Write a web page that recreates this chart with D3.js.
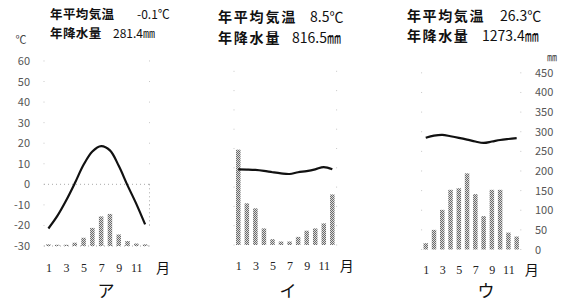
<!DOCTYPE html>
<html>
<head>
<meta charset="utf-8">
<script src="https://cdn.jsdelivr.net/npm/d3@7"></script>
<style>
  body { margin: 0; background: #fff; }
  svg { display: block; }
</style>
</head>
<body>
<div id="chart"></div>
<script>
// months and tick labels
var months = [1, 2, 3, 4, 5, 6, 7, 8, 9, 10, 11, 12];
var monthTicks = [1, 3, 5, 7, 9, 11];
var tempTicks = [60, 50, 40, 30, 20, 10, 0, -10, -20, -30];
var precTicks = [450, 400, 350, 300, 250, 200, 150, 100, 50, 0];

// panel names and annual values
var panelNames = ["ア", "イ", "ウ"];
var meanTemp = ["-0.1", "8.5", "26.3"];
var annualPrec = ["281.4", "816.5", "1273.4"];

// monthly mean temperature (℃)
var tempA = [-21.5, -15.5, -8, 0.5, 9.5, 16, 18.6, 16.5, 9, -0.5, -9.5, -19.5];
var tempB = [9.2, 9.1, 8.9, 8.4, 7.7, 7.1, 6.8, 7.7, 8.3, 9.2, 10.4, 9.2];
var tempC = [26.9, 28.0, 28.4, 27.7, 26.9, 26.0, 25.0, 24.3, 25.0, 25.8, 26.3, 26.7];

// monthly precipitation (mm)
var precA = [4, 3, 3, 8, 20, 44, 72, 78, 28, 12, 6, 4];
var precB = [247, 108, 95, 43, 15, 9, 9, 21, 37, 43, 56, 131];
var precC = [16, 50, 101, 152, 156, 194, 141, 85, 152, 152, 43, 33];

var temps = [tempA, tempB, tempC];
var precs = [precA, precB, precC];

// where each scanned panel sits
var panels = [
  { x0: 44, x1: 149.5, yBase: 246, step: 20.56, fs: 12.5, ls: 0.4, nfs: 12, tx: 50, l1: 15, l2: 34, v1: 137, v2: 113, my: 268, tsuki: 163, nx: 106 },
  { x0: 234, x1: 336.6, yBase: 245, step: 19.3, fs: 14, ls: 1.8, nfs: 14, tx: 218, l1: 17, l2: 38, v1: 310, v2: 292, my: 266, tsuki: 346.7, nx: 288 },
  { x0: 421.6, x1: 520.8, yBase: 249.5, step: 19.63, fs: 14, ls: 1.6, nfs: 14, tx: 407, l1: 16, l2: 36, v1: 500, v2: 482, my: 270, tsuki: 531.7, nx: 486 }
];

var jp = "'Noto Sans CJK JP', 'Noto Sans', sans-serif";
var barWidth = 4.5;

var svg = d3.select("#chart").append("svg")
  .attr("width", 565)
  .attr("height", 303);

// dotted texture for the bars
var pat = svg.append("defs").append("pattern")
  .attr("id", "dots")
  .attr("patternUnits", "userSpaceOnUse")
  .attr("width", 2)
  .attr("height", 2);
pat.append("rect").attr("width", 2).attr("height", 2).attr("fill", "#dcdcdc");
pat.append("rect").attr("width", 1).attr("height", 1).attr("fill", "#6a6a6a");
pat.append("rect").attr("x", 1).attr("y", 1).attr("width", 1).attr("height", 1).attr("fill", "#6a6a6a");

panels.forEach(function(p, i) {
  var x = d3.scaleLinear().domain([0.5, 12.5]).range([p.x0, p.x1]);
  var yTop = p.yBase - 9 * p.step;
  var yT = d3.scaleLinear().domain([-30, 60]).range([p.yBase, yTop]);
  var yP = d3.scaleLinear().domain([0, 450]).range([p.yBase, yTop]);

  var g = svg.append("g");

  // faint frame ticks left over from the print
  [p.x0, p.x1].forEach(function(ex) {
    g.selectAll(null)
      .data(tempTicks)
      .enter().append("rect")
      .attr("x", ex - 0.5)
      .attr("y", function(d) { return yT(d) - 0.5; })
      .attr("width", 1)
      .attr("height", 1)
      .attr("fill", "#c8c8c8");
  });

  if (i === 0) {
    g.append("line")
      .attr("x1", p.x0).attr("x2", p.x1)
      .attr("y1", yT(0)).attr("y2", yT(0))
      .attr("stroke", "#aaa").attr("stroke-dasharray", "1,3");
    g.append("line")
      .attr("x1", p.x0).attr("x2", p.x1)
      .attr("y1", yT(-30)).attr("y2", yT(-30))
      .attr("stroke", "#aaa").attr("stroke-dasharray", "1,3");
    g.append("line")
      .attr("x1", p.x1).attr("x2", p.x1)
      .attr("y1", yT(0)).attr("y2", yT(-20))
      .attr("stroke", "#aaa").attr("stroke-dasharray", "1,3");
  }

  // precipitation bars
  g.selectAll(".bar")
    .data(precs[i])
    .enter().append("rect")
    .attr("class", "bar")
    .attr("x", function(d, j) { return x(months[j]) - barWidth / 2; })
    .attr("y", function(d) { return yP(d); })
    .attr("width", barWidth)
    .attr("height", function(d) { return p.yBase - yP(d); })
    .attr("fill", "url(#dots)");

  // temperature line
  var line = d3.line()
    .x(function(d, j) { return x(months[j]); })
    .y(function(d) { return yT(d); })
    .curve(d3.curveCatmullRom);

  g.append("path")
    .datum(temps[i])
    .attr("d", line)
    .attr("fill", "none")
    .attr("stroke", "#111")
    .attr("stroke-width", 2.2);

  // month axis
  var ax = g.append("g")
    .attr("transform", "translate(0," + p.my + ")")
    .call(d3.axisBottom(x).tickValues(monthTicks).tickSize(0).tickPadding(0));
  ax.select(".domain").remove();
  ax.selectAll("text")
    .attr("y", 0)
    .attr("dy", "0.35em")
    .attr("font-family", "'Liberation Serif', serif")
    .attr("font-size", 12)
    .attr("fill", "#222");

  g.append("text")
    .attr("x", p.tsuki)
    .attr("y", p.my)
    .attr("dy", "0.35em")
    .attr("text-anchor", "middle")
    .attr("font-family", jp)
    .attr("font-size", 14)
    .attr("fill", "#111")
    .text("月");

  // panel name
  g.append("text")
    .attr("x", p.nx)
    .attr("y", 291)
    .attr("dy", "0.35em")
    .attr("text-anchor", "middle")
    .attr("font-family", jp)
    .attr("font-size", 17)
    .attr("fill", "#111")
    .text(panelNames[i]);

  // title lines
  g.append("text")
    .attr("x", p.tx).attr("y", p.l1).attr("dy", "0.35em")
    .attr("font-family", jp).attr("font-weight", "bold")
    .attr("letter-spacing", p.ls)
    .attr("font-size", p.fs).attr("fill", "#111")
    .text("年平均気温");
  g.append("text")
    .attr("x", p.v1).attr("y", p.l1).attr("dy", "0.35em")
    .attr("font-family", jp)
    .attr("font-size", p.nfs).attr("fill", "#111")
    .text(meanTemp[i] + "℃");
  g.append("text")
    .attr("x", p.tx).attr("y", p.l2).attr("dy", "0.35em")
    .attr("font-family", jp).attr("font-weight", "bold")
    .attr("letter-spacing", p.ls)
    .attr("font-size", p.fs).attr("fill", "#111")
    .text("年降水量");
  g.append("text")
    .attr("x", p.v2).attr("y", p.l2).attr("dy", "0.35em")
    .attr("font-family", jp)
    .attr("font-size", p.nfs).attr("fill", "#111")
    .text(annualPrec[i] + "㎜");

  // temperature axis on the left panel
  if (i === 0) {
    var la = svg.append("g")
      .attr("transform", "translate(30,0)")
      .call(d3.axisLeft(yT).tickValues(tempTicks).tickSize(0).tickPadding(0)
        .tickFormat(function(d) { return String(d); }));
    la.select(".domain").remove();
    la.selectAll("text")
      .attr("font-family", jp)
      .attr("font-size", 11)
      .attr("fill", "#555");
    svg.append("text")
      .attr("x", 21).attr("y", 40).attr("dy", "0.35em")
      .attr("text-anchor", "middle")
      .attr("font-family", jp).attr("font-size", 11).attr("fill", "#444")
      .text("℃");
  }

  // precipitation axis on the right panel
  if (i === 2) {
    var ra = svg.append("g")
      .attr("transform", "translate(535,0)")
      .call(d3.axisRight(yP).tickValues(precTicks).tickSize(0).tickPadding(0)
        .tickFormat(function(d) { return String(d); }));
    ra.select(".domain").remove();
    ra.selectAll("text")
      .attr("font-family", jp)
      .attr("font-size", 11)
      .attr("fill", "#555");
    svg.append("text")
      .attr("x", 552).attr("y", 57).attr("dy", "0.35em")
      .attr("text-anchor", "middle")
      .attr("font-family", jp).attr("font-size", 10).attr("fill", "#444")
      .text("㎜");
  }
});
</script>
</body>
</html>
